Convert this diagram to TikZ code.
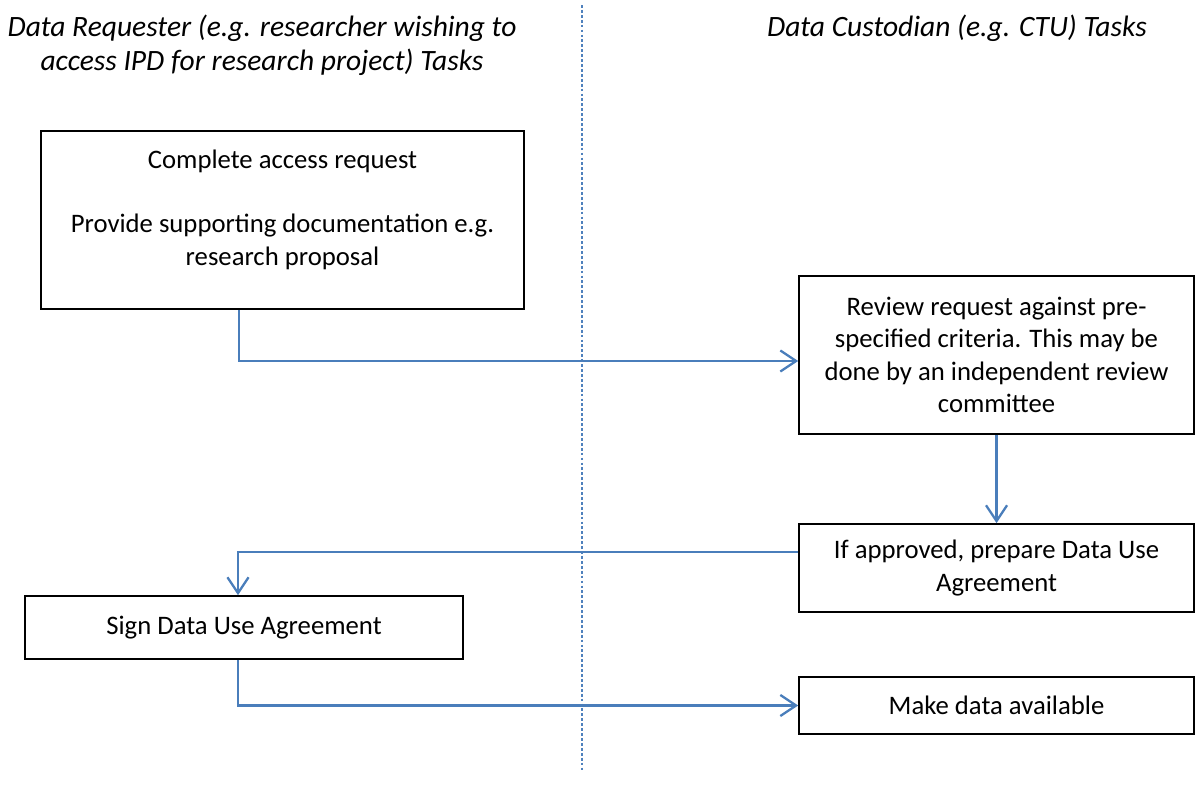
\documentclass[tikz,border=0pt]{standalone}
\usepackage{fontspec}
\setmainfont{Carlito}
\usetikzlibrary{arrows.meta}
\definecolor{ipd@blue}{RGB}{74,126,187}
\definecolor{ipd@lane}{RGB}{79,129,189}
\tikzset{
  task/.style={draw=black, line width=1pt, align=center, inner sep=0pt,
    font=\fontsize{15.2pt}{18.4pt}\selectfont},
  header/.style={align=center, font=\fontsize{16.8pt}{19.3pt}\selectfont\itshape},
  flow/.style={-{Straight Barb[length=9pt,width=12pt]}, ipd@blue, line width=1.3pt},
}

\begin{document}
\begin{tikzpicture}[x=0.02cm, y=-0.02cm]
\useasboundingbox (0,0) rectangle (1196,798);

% swim lane divider
\coordinate (lanetop) at (582,5);
\coordinate (lanebot) at (582,770);
\draw[ipd@lane, line width=0.7pt, dash pattern=on 1.6pt off 1.2pt] (lanetop) -- (lanebot);

% Headers
\node[header] (reqhead) at (262,45)
  {Data Requester (e.g. researcher wishing to\\access IPD for research project) Tasks};
\node[header] (custhead) at (957,28) {Data Custodian (e.g. CTU) Tasks};

% Requester
\node[task, minimum width=9.66cm, minimum height=3.56cm] (access) at (282.5,220)
  {Complete access request\\[18.4pt]Provide supporting documentation e.g.\\research proposal\\[-4.2pt]\mbox{}};
\node[task, minimum width=8.76cm, minimum height=1.26cm] (sign) at (244,627.5)
  {Sign Data Use Agreement};

% Custodian
\node[task, minimum width=7.9cm, minimum height=3.16cm] (review) at (996.5,355)
  {Review request against pre-\\specified criteria. This may be\\done by an independent review\\committee};
\node[task, minimum width=7.9cm, minimum height=1.76cm] (prepare) at (996.5,568)
  {If approved, prepare Data Use\\Agreement};
\node[task, minimum width=7.9cm, minimum height=1.14cm] (release) at (996.5,705.5)
  {Make data available};

% Flow
\draw[flow] ([xshift=-0.87cm]access.south) |- ([yshift=-0.12cm]review.west);
\draw[flow] (review.south) -- (prepare.north);
\draw[flow] ([yshift=0.32cm]prepare.west) -| ([xshift=-0.12cm]sign.north);
\draw[flow] ([xshift=-0.12cm]sign.south) |- (release.west);

\end{tikzpicture}
\end{document}
